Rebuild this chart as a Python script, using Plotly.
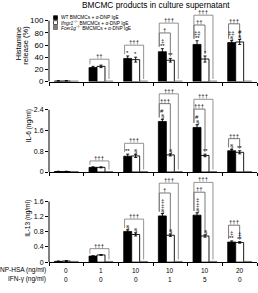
import plotly.graph_objects as go

# ---------------- data ----------------
groups = [0, 1, 2, 3, 4, 5]
np_hsa_labels = ["0", "1", "10", "10", "10", "20"]
ifn_labels = ["0", "0", "0", "1", "5", "0"]

hist_wt = [1, 23, 38, 49, 61, 64]
hist_wt_err = [0.5, 2, 4, 5, 6, 3]
hist_ko = [1, 25, 36, 35, 37, 65]
hist_ko_err = [0.5, 2, 4, 3, 5, 4]
hist_fc = [1, 1, 1, 1, 1, 1]

il6_wt = [0.02, 0.18, 0.61, 1.95, 1.72, 0.82]
il6_wt_err = [0.01, 0.02, 0.08, 0.08, 0.10, 0.05]
il6_ko = [0.02, 0.18, 0.62, 0.66, 0.64, 0.76]
il6_ko_err = [0.01, 0.02, 0.06, 0.04, 0.05, 0.06]
il6_fc = [0.02, 0.02, 0.02, 0.02, 0.02, 0.02]

il13_wt = [0.02, 0.16, 0.81, 1.22, 1.24, 0.53]
il13_wt_err = [0.01, 0.01, 0.04, 0.06, 0.06, 0.03]
il13_ko = [0.03, 0.19, 0.73, 0.71, 0.69, 0.52]
il13_ko_err = [0.01, 0.01, 0.04, 0.03, 0.03, 0.02]
il13_fc = [0.02, 0.02, 0.02, 0.02, 0.02, 0.02]

hist_ticks = [0, 20, 40, 60, 80, 100]
il6_ticks = [0, 0.8, 1.6, 2.4]
il13_ticks = [0, 0.4, 0.8, 1.2, 1.6]

# significance symbols (stacked top<br>bottom)
hist_wt_sym = ["", "", "*", "‡<br>**", "‡‡<br>**", "‡‡<br>§"]
hist_ko_sym = ["", "", "*", "**", "*", "#<br>§"]
il6_wt_sym = ["", "", "**", "#<br>§", "#<br>§", "§"]
il6_ko_sym = ["", "", "§", "§", "**", "**"]
il13_wt_sym = ["", "", "§", "‡<br>‡<br>§", "‡<br>‡<br>§", "‡<br>**"]
il13_ko_sym = ["", "", "§", "§", "§", "‡<br>**"]

# bracket labels: inner = WT vs Ifngr1-/-, outer = WT vs Fcer1g-/-
hist_inner = ["", "", "", "†", "††", "†††"]
hist_outer = ["", "††", "†††", "†††", "†††", ""]
il6_inner = ["", "", "", "†††", "†††", "†††"]
il6_outer = ["", "†††", "†††", "†††", "†††", ""]
il13_inner = ["", "", "", "†", "††", "†††"]
il13_outer = ["", "†††", "†††", "†††", "†††", ""]

# ---------------- layout constants ----------------
W, H = 258, 293
X_LEFT, X_RIGHT = 49, 257
FONT = "Liberation Sans, Arial, sans-serif"
BARGAP = 0.31
BW = (1 - BARGAP) / 3
LINE_PX = 5.0
GAP_PX = 6.0
STEP_PX = 10.0

panels = [
    dict(wt=hist_wt, wte=hist_wt_err, ko=hist_ko, koe=hist_ko_err, fc=hist_fc,
         ticks=hist_ticks, zero_px=83, top_px=21, rmax=114, tfs=8,
         wsym=hist_wt_sym, ksym=hist_ko_sym, inner=hist_inner, outer=hist_outer),
    dict(wt=il6_wt, wte=il6_wt_err, ko=il6_ko, koe=il6_ko_err, fc=il6_fc,
         ticks=il6_ticks, zero_px=175, top_px=111.7, rmax=3.35, tfs=7,
         wsym=il6_wt_sym, ksym=il6_ko_sym, inner=il6_inner, outer=il6_outer),
    dict(wt=il13_wt, wte=il13_wt_err, ko=il13_ko, koe=il13_ko_err, fc=il13_fc,
         ticks=il13_ticks, zero_px=266.7, top_px=205, rmax=2.3, tfs=7,
         wsym=il13_wt_sym, ksym=il13_ko_sym, inner=il13_inner, outer=il13_outer),
]

fig = go.Figure()
shapes = []
annotations = []
layout_axes = {}

for i, p in enumerate(panels, start=1):
    xa = "x" if i == 1 else f"x{i}"
    ya = "y" if i == 1 else f"y{i}"
    xkey = "xaxis" if i == 1 else f"xaxis{i}"
    ykey = "yaxis" if i == 1 else f"yaxis{i}"
    top_tick = p["ticks"][-1]
    ppu = (p["zero_px"] - p["top_px"]) / top_tick
    dom_top_px = p["zero_px"] - ppu * p["rmax"]
    ydomain = [(H - p["zero_px"]) / H, (H - dom_top_px) / H]

    fig.add_trace(go.Bar(x=groups, y=p["wt"], xaxis=xa, yaxis=ya, showlegend=False,
                         marker=dict(color="black", line=dict(color="black", width=0.8)),
                         error_y=dict(type="data", array=p["wte"], color="black",
                                      thickness=0.9, width=1.5)))
    fig.add_trace(go.Bar(x=groups, y=p["ko"], xaxis=xa, yaxis=ya, showlegend=False,
                         marker=dict(color="white", line=dict(color="black", width=0.9)),
                         error_y=dict(type="data", array=p["koe"], color="black",
                                      thickness=0.9, width=1.5)))
    fig.add_trace(go.Bar(x=groups, y=p["fc"], xaxis=xa, yaxis=ya, showlegend=False,
                         marker=dict(color="#808080", line=dict(color="#555555", width=0.6))))

    layout_axes[xkey] = dict(domain=[X_LEFT / W, X_RIGHT / W], anchor=ya, range=[-0.5, 5.5],
                             showline=True, linecolor="black", linewidth=1,
                             ticks="outside", ticklen=3, tickwidth=1, tickcolor="black",
                             tickvals=[g - 0.5 for g in groups] + [groups[-1] + 0.5],
                             showticklabels=False, showgrid=False, zeroline=False,
                             fixedrange=True)
    layout_axes[ykey] = dict(domain=ydomain, anchor=xa, range=[0, p["rmax"]],
                             tickvals=p["ticks"], ticks="outside", ticklen=3, tickwidth=1,
                             tickcolor="black", showline=False, showgrid=False,
                             zeroline=False,
                             tickfont=dict(size=p["tfs"], color="black", family=FONT),
                             fixedrange=True)
    # visible y-axis line only up to top tick
    shapes.append(dict(type="line", xref="paper", yref=ya, x0=X_LEFT / W, x1=X_LEFT / W,
                       y0=0, y1=top_tick, line=dict(color="black", width=1)))

    u = 1.0 / ppu  # data units per pixel
    for g in groups:
        xw, xk, xf = g - BW, g, g + BW
        tw = p["wt"][g] + p["wte"][g]
        tk = p["ko"][g] + p["koe"][g]
        tf = p["fc"][g]
        nw = len(p["wsym"][g].split("<br>")) if p["wsym"][g] else 0
        nk = len(p["ksym"][g].split("<br>")) if p["ksym"][g] else 0
        # symbols above bars
        for xc, top, sym in ((xw, tw, p["wsym"][g]), (xk, tk, p["ksym"][g])):
            if not sym:
                continue
            lines = sym.split("<br>")[::-1]
            for k, s in enumerate(lines):
                annotations.append(dict(x=xc, y=top, xref=xa, yref=ya, text=s,
                                        showarrow=False, yanchor="bottom",
                                        yshift=-1 + k * LINE_PX, borderpad=0,
                                        font=dict(size=6, color="black", family=FONT)))
        stack_w = tw + nw * LINE_PX * u
        stack_k = tk + nk * LINE_PX * u
        base = max(stack_w, stack_k) + GAP_PX * u
        xl = xw - 0.09
        level_inner = None
        if p["inner"][g]:
            level_inner = base
            path = (f"M {xl},{tw + 2 * u} L {xl},{level_inner} "
                    f"L {xk},{level_inner} L {xk},{tk + 2 * u}")
            shapes.append(dict(type="path", xref=xa, yref=ya, path=path,
                               line=dict(color="#555555", width=0.8)))
            annotations.append(dict(x=(xl + xk) / 2, y=level_inner, xref=xa, yref=ya,
                                    text=p["inner"][g], showarrow=False, yanchor="bottom",
                                    yshift=-1, borderpad=0,
                                    font=dict(size=6, color="black", family=FONT)))
        if p["outer"][g]:
            level = (level_inner + STEP_PX * u) if level_inner is not None else base
            path = (f"M {xl},{tw + 2 * u} L {xl},{level} "
                    f"L {xf},{level} L {xf},{tf + 2 * u}")
            shapes.append(dict(type="path", xref=xa, yref=ya, path=path,
                               line=dict(color="#777777", width=0.8)))
            annotations.append(dict(x=(xl + xf) / 2, y=level, xref=xa, yref=ya,
                                    text=p["outer"][g], showarrow=False, yanchor="bottom",
                                    yshift=-1, borderpad=0,
                                    font=dict(size=6, color="black", family=FONT)))

# category labels under bottom panel
for g in groups:
    annotations.append(dict(x=g, y=(H - 275) / H, xref="x3", yref="paper",
                            text=np_hsa_labels[g], showarrow=False, yanchor="middle",
                            font=dict(size=6.5, color="black", family=FONT)))
    annotations.append(dict(x=g, y=(H - 284.3) / H, xref="x3", yref="paper",
                            text=ifn_labels[g], showarrow=False, yanchor="middle",
                            font=dict(size=6.5, color="black", family=FONT)))
annotations.append(dict(x=48 / W, y=(H - 275) / H, xref="paper", yref="paper",
                        text="NP-HSA (ng/ml)", showarrow=False, xanchor="right",
                        yanchor="middle", font=dict(size=6.5, color="black", family=FONT)))
annotations.append(dict(x=48 / W, y=(H - 284.3) / H, xref="paper", yref="paper",
                        text="IFN-γ (ng/ml)", showarrow=False, xanchor="right",
                        yanchor="middle", font=dict(size=6.5, color="black", family=FONT)))

# y-axis titles
ttl = dict(xref="paper", yref="paper", textangle=-90, showarrow=False,
           xanchor="center", yanchor="middle", borderpad=0)
annotations += [
    dict(x=18 / W, y=(H - 45) / H, text="Histamine",
         font=dict(size=7.5, color="black", family=FONT), **ttl),
    dict(x=25.5 / W, y=(H - 46) / H, text="release (%)",
         font=dict(size=7.5, color="black", family=FONT), **ttl),
    dict(x=28.5 / W, y=(H - 128) / H, text="IL-6 (ng/ml)",
         font=dict(size=6.5, color="black", family=FONT), **ttl),
    dict(x=28.5 / W, y=(H - 222) / H, text="IL-13 (ng/ml)",
         font=dict(size=6.5, color="black", family=FONT), **ttl),
]

# title
annotations.append(dict(x=156 / W, y=(H - 5.5) / H, xref="paper", yref="paper",
                        text="BMCMC products in culture supernatant", showarrow=False,
                        yanchor="middle", font=dict(size=8.3, color="black", family=FONT)))

# legend (drawn manually: compact rows)
legend_rows = [
    ("WT BMCMCs + α-DNP IgE", "black", "black"),
    ("<i>Ifngr1</i><sup>−/−</sup> BMCMCs + α-DNP IgE", "white", "black"),
    ("<i>Fcer1g</i><sup>−/−</sup> BMCMCs + α-DNP IgE", "#808080", "#555555"),
]
for r, (txt, fill, edge) in enumerate(legend_rows):
    yc = 18 + r * 5.0
    shapes.append(dict(type="rect", xref="paper", yref="paper",
                       x0=53.5 / W, x1=57.5 / W, y0=(H - yc - 2) / H, y1=(H - yc + 2) / H,
                       fillcolor=fill, line=dict(color=edge, width=0.7)))
    annotations.append(dict(x=59.5 / W, y=(H - yc) / H, xref="paper", yref="paper",
                            text=txt, showarrow=False, xanchor="left", yanchor="middle",
                            borderpad=0, font=dict(size=4.8, color="black", family=FONT)))

fig.update_layout(
    width=W, height=H, autosize=False,
    margin=dict(l=0, r=0, t=0, b=0, pad=0),
    paper_bgcolor="white", plot_bgcolor="white",
    barmode="group", bargap=BARGAP, bargroupgap=0,
    showlegend=False,
    font=dict(family=FONT, color="black"),
    shapes=shapes, annotations=annotations,
    **layout_axes,
)

fig.write_html("out.html")
